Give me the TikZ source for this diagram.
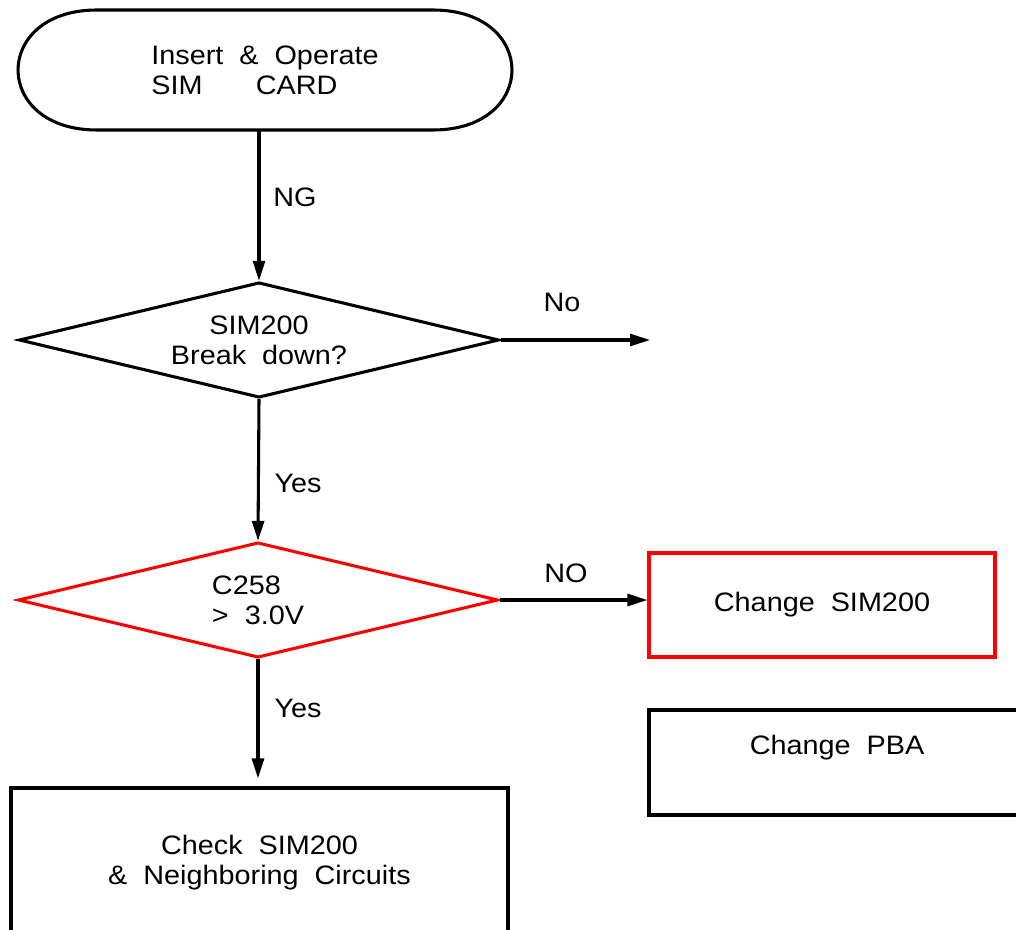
\documentclass[tikz,border=0pt]{standalone}
\usepackage{fontspec}
\setmainfont{Liberation Sans}[FakeStretch=1.08]
\usetikzlibrary{arrows.meta,shapes.geometric}

\tikzset{
	flow/.style={line width=2.3pt},
	arr/.style={flow,-{Triangle[length=15pt,width=9pt]}},
	dec/.style={diamond,draw,flow,aspect=4.17,inner sep=0pt,minimum width=360pt,minimum height=86.5pt,align=center},
	box/.style={rectangle,draw,flow,inner sep=0pt,align=center}
}

\begin{document}
\begin{tikzpicture}[x=0.75pt,y=-0.75pt,every node/.style={font=\fontsize{20}{22.5}\selectfont}]
			\useasboundingbox (0,0) rectangle (1016,930);
			\clip (0,0) rectangle (1016,930);
			
			\node [align=left,minimum width=370.5pt,minimum height=90pt] (start) at (265,70) {Insert~~\&~~Operate\\SIM\hspace{40pt}CARD};
			\draw [flow] (97,10) -- (433,10) .. controls (538.3,10) and (538.3,130) .. (433,130) -- (97,130) .. controls (-8.3,130) and (-8.3,10) .. (97,10) -- cycle;
			
			\node [dec] (brk) at (259,340) {SIM200\\Break~~down?};
			\node [dec,draw=red] (volt) at (258,600) [align=left] {C258\\>~~3.0V};
			
			\node [box,draw=red,minimum width=259.5pt,minimum height=78pt] (chg) at (822,605) {Change~~SIM200};
			\node [box,minimum width=300.75pt,minimum height=78.75pt] (pba) at (849.5,762.5) {};
			\node (pbatxt) at (837,748) {Change~~PBA};
			\node [box,minimum width=372.75pt,minimum height=112.5pt] (chk) at (259.5,863) {Check~~SIM200\\\&~~Neighboring~~Circuits};
			
			\coordinate (noend) at (650,340);
			
			\draw [arr] (start.south -| brk.north) -- (brk.north);
			\draw [arr] (brk.east) -- (noend);
			\draw [arr] (brk.south) -- (volt.north);
			\draw [arr] (volt.east) -- (volt.east -| chg.west);
			\draw [arr,shorten >=6pt] (volt.south) -- (chk.north -| volt.south);
			
			\node (ng) at (295,197) {NG};
			\node (no1) at (562,302) {No};
			\node (yes1) at (298,483) {Yes};
			\node (no2) at (566,573) {NO};
			\node (yes2) at (298,708) {Yes};
\end{tikzpicture}
\end{document}
